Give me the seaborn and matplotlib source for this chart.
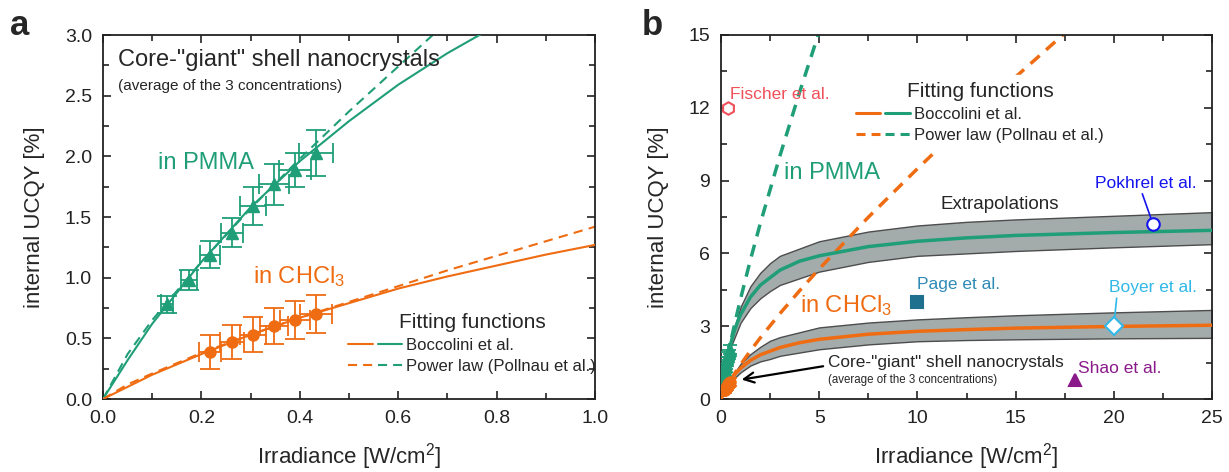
import matplotlib
matplotlib.use("Agg")
import matplotlib.pyplot as plt
import seaborn as sns
import pandas as pd
from matplotlib.ticker import MultipleLocator, FormatStrFormatter
from matplotlib.lines import Line2D
from matplotlib.legend_handler import HandlerTuple

# ---------------- data ----------------
pmma_x = [0.13, 0.175, 0.218, 0.262, 0.305, 0.348, 0.39, 0.433]
pmma_y = [0.78, 0.98, 1.19, 1.37, 1.59, 1.77, 1.89, 2.03]
pmma_xerr = [0.012, 0.016, 0.02, 0.023, 0.027, 0.03, 0.032, 0.035]
pmma_yerr = [0.07, 0.08, 0.11, 0.12, 0.16, 0.17, 0.14, 0.19]

chcl3_x = [0.218, 0.262, 0.305, 0.348, 0.39, 0.433]
chcl3_y = [0.39, 0.47, 0.53, 0.60, 0.65, 0.70]
chcl3_xerr = [0.022, 0.024, 0.026, 0.028, 0.03, 0.032]
chcl3_yerr = [0.14, 0.14, 0.145, 0.15, 0.155, 0.16]

fit_x = [0, 0.05, 0.1, 0.2, 0.3, 0.4, 0.5, 0.6, 0.7, 0.8, 0.9, 1.0,
         1.5, 2, 3, 4, 5, 7.5, 10, 12.5, 15, 20, 25]
bocc_pmma = [0, 0.32, 0.62, 1.13, 1.58, 1.96, 2.29, 2.59, 2.85, 3.08, 3.29, 3.48,
             4.20, 4.69, 5.31, 5.68, 5.90, 6.28, 6.50, 6.64, 6.74, 6.86, 6.95]
bocc_chcl3 = [0, 0.10, 0.20, 0.37, 0.53, 0.67, 0.79, 0.91, 1.01, 1.10, 1.19, 1.27,
              1.59, 1.82, 2.12, 2.32, 2.46, 2.67, 2.79, 2.86, 2.92, 2.99, 3.04]

pow_pmma_x = [0, 0.05, 0.1, 0.2, 0.3, 0.4, 0.5, 0.6, 0.7, 0.8, 0.9, 1.0, 1.5, 2, 3, 4, 5, 5.5]
pow_pmma_y = [0, 0.37, 0.65, 1.13, 1.57, 1.98, 2.37, 2.74, 3.11, 3.46, 3.80, 4.14, 5.74, 7.23,
              10.02, 12.64, 15.13, 16.3]
pow_chcl3_x = [0, 0.05, 0.1, 0.2, 0.3, 0.4, 0.5, 0.6, 0.7, 0.8, 0.9, 1.0, 1.5, 2, 3, 4, 5,
               7.5, 10, 12.5, 15, 17.5, 18]
pow_chcl3_y = [0, 0.12, 0.21, 0.38, 0.53, 0.67, 0.80, 0.93, 1.06, 1.18, 1.30, 1.42, 1.99, 2.52,
               3.52, 4.46, 5.36, 7.49, 9.49, 11.42, 13.27, 15.07, 15.4]

band_x = [0.5, 1, 1.5, 2, 2.5, 3, 5, 7.5, 10, 12.5, 15, 20, 25]
pmma_lo = [2.15, 3.15, 3.75, 4.15, 4.45, 4.7, 5.25, 5.65, 5.9, 6.0, 6.1, 6.25, 6.38]
pmma_hi = [2.45, 3.8, 4.65, 5.2, 5.6, 5.9, 6.5, 6.9, 7.15, 7.3, 7.4, 7.55, 7.7]
chcl3_lo = [0.72, 1.1, 1.38, 1.55, 1.65, 1.78, 2.05, 2.25, 2.38, 2.43, 2.46, 2.5, 2.52]
chcl3_hi = [0.86, 1.45, 1.85, 2.15, 2.4, 2.55, 2.95, 3.15, 3.28, 3.37, 3.45, 3.57, 3.67]

lit_names = ["Fischer et al.", "Page et al.", "Pokhrel et al.", "Boyer et al.", "Shao et al."]
lit_x = [0.37, 10, 22, 20, 18]
lit_y = [12.0, 4.0, 7.2, 3.0, 0.78]

# ---------------- style ----------------
sns.set_theme(style="ticks")
plt.rcParams["font.family"] = ["Liberation Sans", "DejaVu Sans"]
plt.rcParams["mathtext.default"] = "regular"

green = "#1f9e78"
orange = "#ef6c12"
band_fc = "#a4abab"
band_ec = "#4d4d4d"
lit_colors = ["#f0505a", "#1f6f8f", "#1414ee", "#30b8e8", "#8a1a8a"]
lit_text_colors = ["#f0505a", "#2e8ab5", "#1414ee", "#30b8e8", "#8a1a8a"]

fig = plt.figure(figsize=(12.29, 4.72), dpi=100)
axA = fig.add_axes([103 / 1229, 73 / 472, 492 / 1229, 364 / 472])
axB = fig.add_axes([721 / 1229, 73 / 472, 491 / 1229, 364 / 472])

fit_df = pd.DataFrame({"x": fit_x, "pmma": bocc_pmma, "chcl3": bocc_chcl3})
pp_df = pd.DataFrame({"x": pow_pmma_x, "y": pow_pmma_y})
pc_df = pd.DataFrame({"x": pow_chcl3_x, "y": pow_chcl3_y})


def draw_common(ax, lw, dash, ms, cap):
    sns.lineplot(data=pp_df, x="x", y="y", ax=ax, color=green, lw=lw,
                 linestyle=(0, dash), errorbar=None, zorder=2)
    sns.lineplot(data=pc_df, x="x", y="y", ax=ax, color=orange, lw=lw,
                 linestyle=(0, dash), errorbar=None, zorder=2)
    sns.lineplot(data=fit_df, x="x", y="pmma", ax=ax, color=green, lw=lw,
                 errorbar=None, zorder=3)
    sns.lineplot(data=fit_df, x="x", y="chcl3", ax=ax, color=orange, lw=lw,
                 errorbar=None, zorder=3)
    ax.errorbar(pmma_x, pmma_y, xerr=pmma_xerr, yerr=pmma_yerr, fmt="^",
                color=green, ms=ms, capsize=cap, elinewidth=1.3, capthick=1.3, zorder=4)
    ax.errorbar(chcl3_x, chcl3_y, xerr=chcl3_xerr, yerr=chcl3_yerr, fmt="o",
                color=orange, ms=ms, capsize=cap, elinewidth=1.3, capthick=1.3, zorder=4)


def style_axes(ax):
    ax.tick_params(which="both", direction="in", top=True, right=True,
                   width=1.2, colors="#222222", labelsize=14, pad=8)
    ax.tick_params(which="major", length=6)
    ax.tick_params(which="minor", length=4)
    for s in ax.spines.values():
        s.set_linewidth(1.3)
        s.set_color("#222222")
    ax.set_xlabel("Irradiance [W/cm$^2$]", fontsize=16, labelpad=10)
    ax.set_ylabel("internal UCQY [%]", fontsize=16, labelpad=14)


def make_legend(ax, lw, dash, anchor, frame):
    h_boc = (Line2D([], [], color=orange, lw=lw), Line2D([], [], color=green, lw=lw))
    h_pow = (Line2D([], [], color=orange, lw=lw, linestyle=(0, dash)),
             Line2D([], [], color=green, lw=lw, linestyle=(0, dash)))
    leg = ax.legend([h_boc, h_pow], ["Boccolini et al.", "Power law (Pollnau et al.)"],
                    handler_map={tuple: HandlerTuple(ndivide=None, pad=0.3)},
                    title="Fitting functions", title_fontsize=15, fontsize=12,
                    loc="upper left", bbox_to_anchor=anchor, handlelength=3.2,
                    handletextpad=0.25, labelspacing=0.35, borderpad=0.4 if frame else 0,
                    frameon=frame, fancybox=False)
    if frame:
        leg.get_frame().set_facecolor("white")
        leg.get_frame().set_edgecolor("white")
        leg.get_frame().set_alpha(1)
    leg.set_zorder(6)
    return leg


# ---------------- panel a ----------------
draw_common(axA, 1.5, (4.5, 3), 8, 7)
axA.set_xlim(0, 1.0)
axA.set_ylim(0, 3.0)
axA.xaxis.set_major_locator(MultipleLocator(0.2))
axA.xaxis.set_minor_locator(MultipleLocator(0.1))
axA.yaxis.set_major_locator(MultipleLocator(0.5))
axA.yaxis.set_minor_locator(MultipleLocator(0.25))
axA.xaxis.set_major_formatter(FormatStrFormatter("%.1f"))
axA.yaxis.set_major_formatter(FormatStrFormatter("%.1f"))
style_axes(axA)
axA.text(0.031, 2.79, 'Core-"giant" shell nanocrystals', fontsize=17, va="center", ha="left")
axA.text(0.031, 2.58, "(average of the 3 concentrations)", fontsize=11, va="center", ha="left")
axA.text(0.111, 1.945, "in PMMA", fontsize=17, color=green, va="center", ha="left")
axA.text(0.305, 1.01, "in CHCl$_3$", fontsize=17, color=orange, va="center", ha="left")
make_legend(axA, 1.5, (4.35, 2.9), (0.482, 0.258), False)

# ---------------- panel b ----------------
axB.fill_between(band_x, pmma_lo, pmma_hi, facecolor=band_fc, edgecolor=band_ec, lw=1.0, zorder=1)
axB.fill_between(band_x, chcl3_lo, chcl3_hi, facecolor=band_fc, edgecolor=band_ec, lw=1.0, zorder=1)
draw_common(axB, 2.5, (3.5, 2.5), 8, 5)
axB.set_xlim(0, 25)
axB.set_ylim(0, 15)
axB.xaxis.set_major_locator(MultipleLocator(5))
axB.xaxis.set_minor_locator(MultipleLocator(2.5))
axB.yaxis.set_major_locator(MultipleLocator(3))
axB.yaxis.set_minor_locator(MultipleLocator(1.5))
style_axes(axB)

marker_styles = ["h", "s", "o", "D", "^"]
open_face = [True, False, True, True, False]
for i in range(len(lit_x)):
    fc = "white" if open_face[i] else lit_colors[i]
    axB.plot([lit_x[i]], [lit_y[i]], marker=marker_styles[i], ms=9, mfc=fc,
             mec=lit_colors[i], mew=1.5, ls="none", zorder=5)

axB.text(0.45, 12.55, lit_names[0], color=lit_text_colors[0], fontsize=12.5, va="center")
axB.text(10.0, 4.72, lit_names[1], color=lit_text_colors[1], fontsize=12.5, va="center")
axB.annotate(lit_names[2], xy=(lit_x[2], lit_y[2]), xytext=(21.65, 8.9),
             color=lit_text_colors[2], fontsize=12.5, ha="center", va="center",
             arrowprops=dict(arrowstyle="-", color=lit_colors[2], lw=1.2,
                             relpos=(0.45, 0.0), shrinkA=0, shrinkB=5))
axB.annotate(lit_names[3], xy=(lit_x[3], lit_y[3]), xytext=(22.0, 4.6),
             color=lit_text_colors[3], fontsize=12.5, ha="center", va="center",
             arrowprops=dict(arrowstyle="-", color=lit_colors[3], lw=1.2,
                             relpos=(0.09, 0.0), shrinkA=0, shrinkB=5))
axB.text(18.2, 1.26, lit_names[4], color=lit_text_colors[4], fontsize=12.5, va="center")

axB.text(11.2, 8.0, "Extrapolations", fontsize=13.5, va="center")
axB.text(3.2, 9.3, "in PMMA", fontsize=17, color=green, va="center")
axB.text(4.0, 3.85, "in CHCl$_3$", fontsize=17, color=orange, va="center")
axB.text(5.45, 1.5, 'Core-"giant" shell nanocrystals', fontsize=12.4, va="center")
axB.text(5.45, 0.78, "(average of the 3 concentrations)", fontsize=8.3, va="center")
axB.annotate("", xy=(1.05, 0.8), xytext=(5.2, 1.35),
             arrowprops=dict(arrowstyle="->,head_length=0.6,head_width=0.3",
                             color="black", lw=1.6, shrinkA=0, shrinkB=0))
make_legend(axB, 2.2, (2.96, 1.98), (0.245, 0.912), True)

fig.text(10 / 1229, 1 - 35 / 472, "a", fontsize=25, fontweight="bold", va="baseline")
fig.text(642 / 1229, 1 - 35 / 472, "b", fontsize=25, fontweight="bold", va="baseline")

fig.savefig("out.png", dpi=100)
